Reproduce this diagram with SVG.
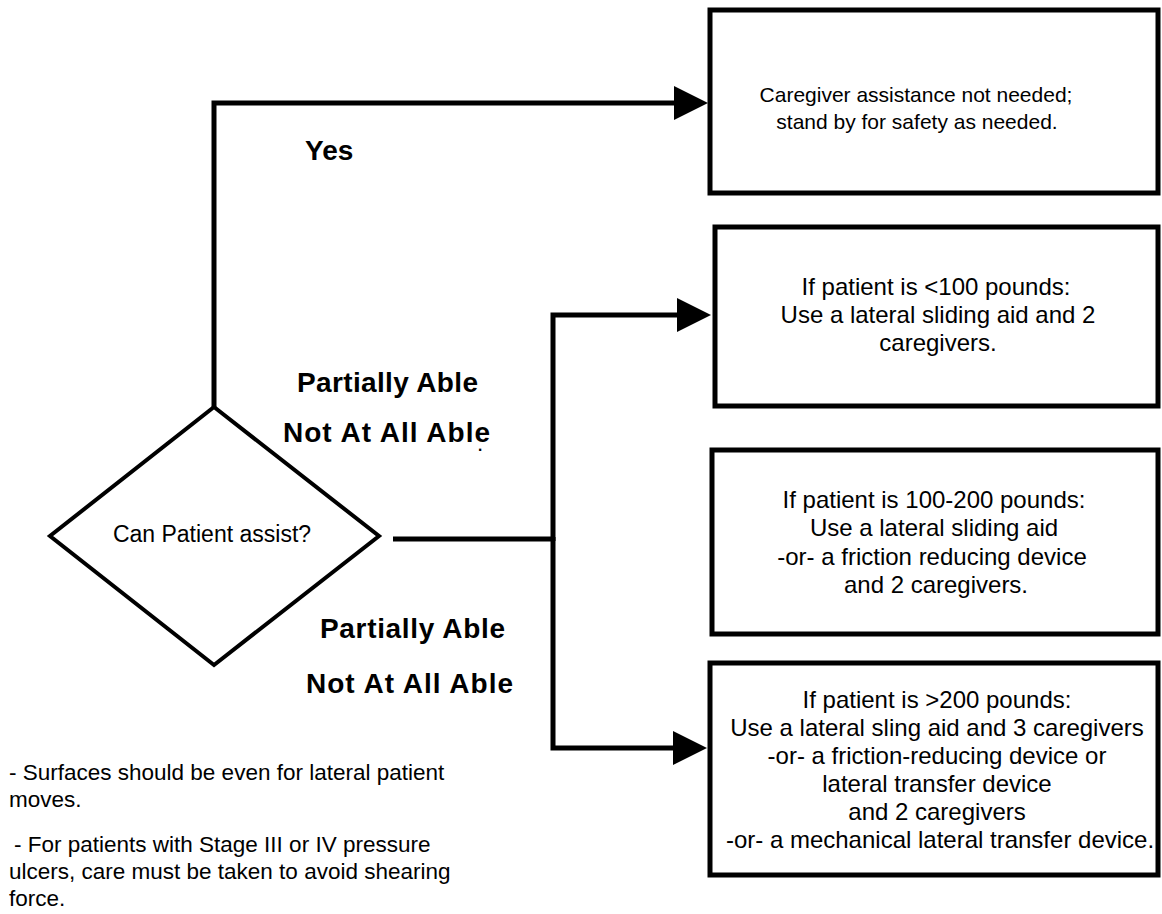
<svg xmlns="http://www.w3.org/2000/svg" width="1162" height="914" viewBox="0 0 1162 914">
<defs>
<marker id="arrow" markerUnits="userSpaceOnUse" markerWidth="34" markerHeight="34" refX="0" refY="17" orient="auto" viewBox="0 0 34 34">
<path d="M0,0 L34,17 L0,34 Z" fill="#000"/>
</marker>
<style>
.box{fill:#fff;stroke:#000;stroke-width:5;stroke-linejoin:miter}
.dec{fill:#fff;stroke:#000;stroke-width:4;stroke-linejoin:miter}
.conn{fill:none;stroke:#000;stroke-width:5;stroke-linejoin:miter;stroke-linecap:butt}
.t{font-family:"Liberation Sans",Arial,sans-serif;font-size:24px;fill:#000;text-anchor:middle}
.t1{font-family:"Liberation Sans",Arial,sans-serif;font-size:21px;fill:#000;text-anchor:middle}
.q{font-family:"Liberation Sans",Arial,sans-serif;font-size:23px;fill:#000;text-anchor:middle}
.lbl{font-family:"Liberation Sans",Arial,sans-serif;font-size:28px;font-weight:bold;fill:#000}
.note{font-family:"Liberation Sans",Arial,sans-serif;font-size:22.5px;fill:#000}
</style>
</defs>
<rect width="1162" height="914" fill="#fff"/>
<g id="connectors">
<path class="conn" d="M214,407 V103 H674" marker-end="url(#arrow)"/>
<path class="conn" d="M393,539 H553"/>
<path class="conn" d="M553,541 V315 H677" marker-end="url(#arrow)"/>
<path class="conn" d="M553,537 V748 H673" marker-end="url(#arrow)"/>
</g>
<g id="edge-labels">
<text class="lbl" x="305" y="160">Yes</text>
<text class="lbl" x="387.5" y="392" text-anchor="middle" textLength="181" lengthAdjust="spacing">Partially Able</text>
<text class="lbl" x="386.5" y="442" text-anchor="middle" textLength="207" lengthAdjust="spacing">Not At All Able</text>
<text class="note" x="477" y="451" font-size="10">.</text>
<text class="lbl" x="412.5" y="638" text-anchor="middle" textLength="185" lengthAdjust="spacing">Partially Able</text>
<text class="lbl" x="409.5" y="693" text-anchor="middle" textLength="207" lengthAdjust="spacing">Not At All Able</text>
</g>
<g id="decision">
<polygon class="dec" points="214,407 379,536 214,665 50,536"/>
<text class="q" x="212" y="542">Can Patient assist?</text>
</g>
<g id="box-no-assist">
<rect class="box" x="710" y="10" width="448" height="183"/>
<text class="t1" x="916" y="102">Caregiver assistance not needed;</text>
<text class="t1" x="917" y="129">stand by for safety as needed.</text>
</g>
<g id="box-under-100">
<rect class="box" x="715" y="227" width="443" height="179"/>
<text class="t" x="936" y="295">If patient is &lt;100 pounds:</text>
<text class="t" x="938" y="323">Use a lateral sliding aid and 2</text>
<text class="t" x="938" y="351">caregivers.</text>
</g>
<g id="box-100-200">
<rect class="box" x="712" y="450" width="446" height="184"/>
<text class="t" x="934" y="508">If patient is 100-200 pounds:</text>
<text class="t" x="934" y="536">Use a lateral sliding aid</text>
<text class="t" x="932" y="565">-or- a friction reducing device</text>
<text class="t" x="936" y="593">and 2 caregivers.</text>
</g>
<g id="box-over-200">
<rect class="box" x="710" y="663" width="448" height="212"/>
<text class="t" x="937" y="708">If patient is &gt;200 pounds:</text>
<text class="t" x="937" y="736">Use a lateral sling aid and 3 caregivers</text>
<text class="t" x="937" y="764">-or- a friction-reducing device or</text>
<text class="t" x="937" y="792">lateral transfer device</text>
<text class="t" x="937" y="820">and 2 caregivers</text>
<text class="t" x="940" y="848">-or- a mechanical lateral transfer device.</text>
</g>
<g id="notes">
<text class="note" x="9" y="780">- Surfaces should be even for lateral patient</text>
<text class="note" x="9" y="807">moves.</text>
<text class="note" x="14" y="852">- For patients with Stage III or IV pressure</text>
<text class="note" x="9" y="879">ulcers, care must be taken to avoid shearing</text>
<text class="note" x="9" y="906">force.</text>
</g>
</svg>
